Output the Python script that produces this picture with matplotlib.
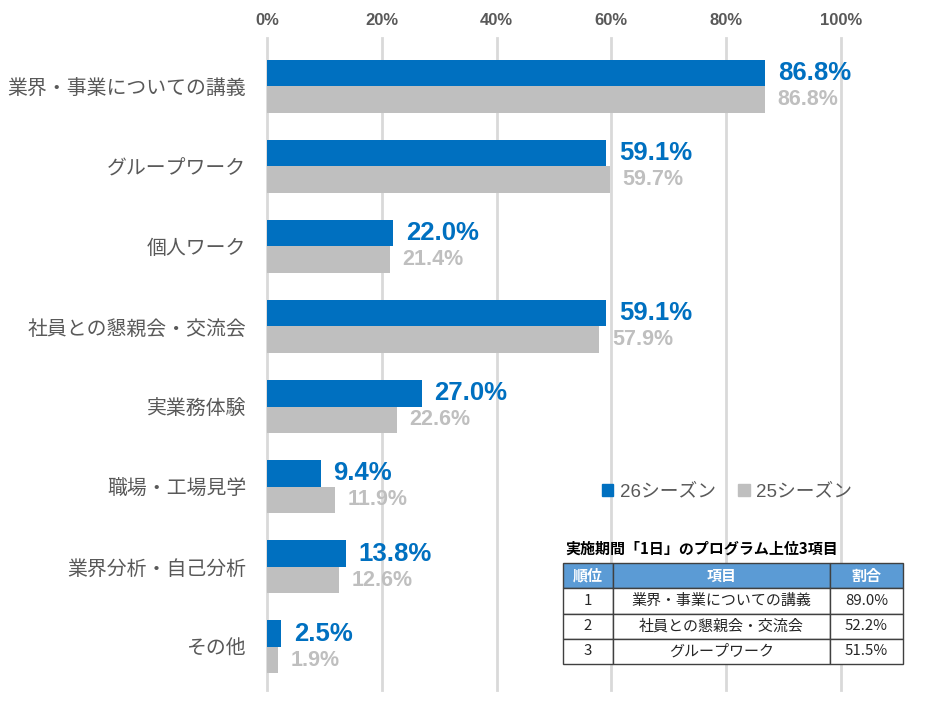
import matplotlib
matplotlib.use("Agg")
import matplotlib.pyplot as plt
import numpy as np
from matplotlib.patches import Patch

categories = ["業界・事業についての講義", "グループワーク", "個人ワーク", "社員との懇親会・交流会",
              "実業務体験", "職場・工場見学", "業界分析・自己分析", "その他"]
s26 = [86.8, 59.1, 22.0, 59.1, 27.0, 9.4, 13.8, 2.5]
s25 = [86.8, 59.7, 21.4, 57.9, 22.6, 11.9, 12.6, 1.9]
series_names = ["26シーズン", "25シーズン"]
xticks = [0, 20, 40, 60, 80, 100]

table_title = "実施期間「1日」のプログラム上位3項目"
table_header = ["順位", "項目", "割合"]
table_rank = ["1", "2", "3"]
table_item = ["業界・事業についての講義", "社員との懇親会・交流会", "グループワーク"]
table_pct = ["89.0%", "52.2%", "51.5%"]

BLUE = "#0070C0"
GRAY = "#BFBFBF"
TXT = "#595959"
JP = ["Noto Sans CJK JP", "DejaVu Sans"]
NUM = ["Liberation Sans", "Noto Sans CJK JP", "DejaVu Sans"]

fig = plt.figure(figsize=(9.28, 7.01), dpi=100)
W, H = 928, 701
ax = fig.add_axes([267 / W, (H - 687) / H, (841 - 267) / W, (687 - 46) / H])

y = np.arange(len(categories))
bh = 0.33
ax.barh(y - bh / 2, s26, height=bh, color=BLUE, zorder=3)
ax.barh(y + bh / 2, s25, height=bh, color=GRAY, zorder=3)

for yi, v in zip(y, s26):
    ax.annotate(f"{v:.1f}%", (v, yi - bh / 2), xytext=(9, 0), textcoords="offset points",
                ha="left", va="center", color=BLUE, fontsize=18.5, fontweight="bold",
                family=NUM, annotation_clip=False, zorder=4)
for yi, v in zip(y, s25):
    ax.annotate(f"{v:.1f}%", (v, yi + bh / 2), xytext=(9, 0), textcoords="offset points",
                ha="left", va="center", color=GRAY, fontsize=15.5, fontweight="bold",
                family=NUM, annotation_clip=False, zorder=4)

ax.set_ylim(len(categories) - 0.5, -0.5)
ax.set_xlim(0, 100)
ax.set_yticks(y)
ax.set_yticklabels(categories, family=JP, fontsize=14.3, color=TXT)
ax.tick_params(axis="y", length=0, pad=15)
ax.set_xticks(xticks)
ax.set_xticklabels([f"{t}%" for t in xticks], family=["Liberation Sans Narrow", "Liberation Sans", "DejaVu Sans"],
                   fontsize=12, fontweight="bold", color=TXT)
ax.xaxis.tick_top()
ax.tick_params(axis="x", length=0, pad=13)
for sp in ax.spines.values():
    sp.set_visible(False)
for t in xticks:
    ax.axvline(t, ymin=-0.005, ymax=1.012, color="#D9D9D9", lw=2, zorder=1, clip_on=False)

handles = [Patch(color=BLUE), Patch(color=GRAY)]
leg = fig.legend(handles, series_names, loc="center", bbox_to_anchor=(727 / W, 1 - 492 / H),
                 ncol=2, frameon=False, prop={"family": NUM, "size": 13.5},
                 handlelength=0.6, handleheight=0.6, handletextpad=0.35, columnspacing=1.2)
for t in leg.get_texts():
    t.set_color(TXT)

# table
fig.text(565 / W, 1 - 549 / H, table_title, family=JP, fontsize=10.8, fontweight="bold",
         ha="left", va="center", color="black")
tax = fig.add_axes([563 / W, (H - 664) / H, (903 - 563) / W, (664 - 563) / H])
tax.axis("off")
cell_text = [[r, it, p] for r, it, p in zip(table_rank, table_item, table_pct)]
tbl = tax.table(cellText=cell_text, colLabels=table_header, bbox=[0, 0, 1, 1],
                colWidths=[50 / 340, 217 / 340, 73 / 340], cellLoc="center")
tbl.auto_set_font_size(False)
for (r, c), cell in tbl.get_celld().items():
    cell.set_edgecolor("#404040")
    cell.set_linewidth(1.0)
    txt = cell.get_text()
    txt.set_fontfamily(JP)
    txt.set_fontsize(10.8)
    if r == 0:
        cell.set_facecolor("#5B9BD5")
        txt.set_color("white")
        txt.set_fontweight("bold")
    else:
        cell.set_facecolor("white")
        txt.set_color("#262626")

fig.savefig("out.png", dpi=100)
